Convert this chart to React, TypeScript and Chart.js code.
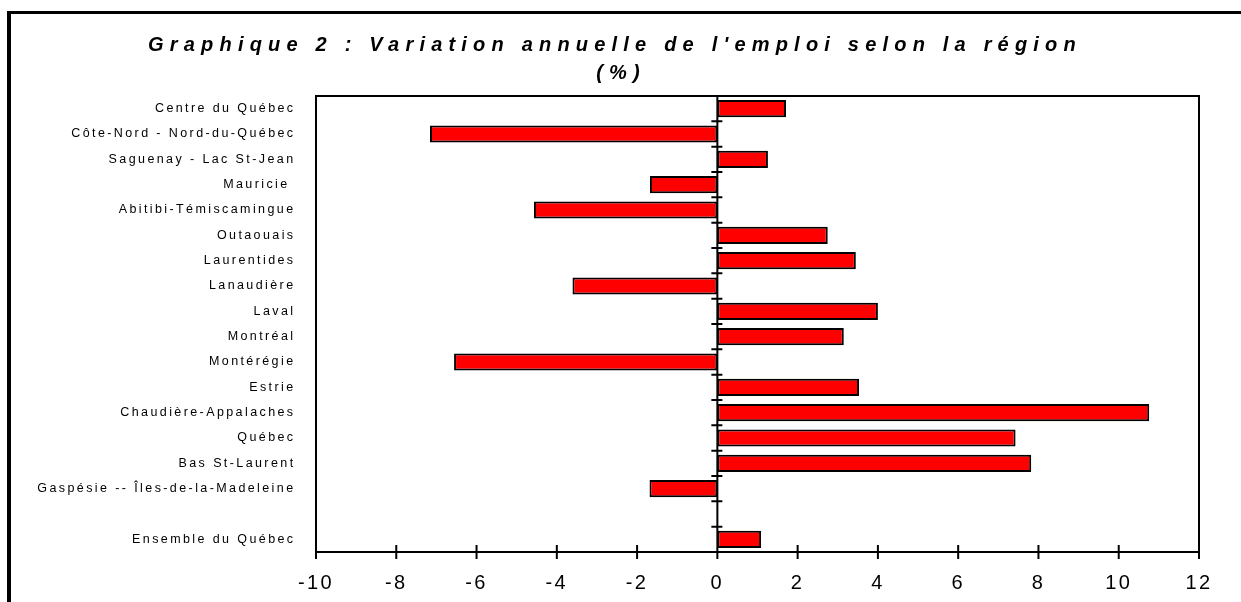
import React, { useEffect, useRef } from 'react';
import { Chart, registerables } from 'chart.js';

Chart.register(...registerables);

const regions = [
  'Centre du Québec',
  'Côte-Nord - Nord-du-Québec',
  'Saguenay - Lac St-Jean',
  'Mauricie ',
  'Abitibi-Témiscamingue',
  'Outaouais',
  'Laurentides',
  'Lanaudière',
  'Laval',
  'Montréal',
  'Montérégie',
  'Estrie',
  'Chaudière-Appalaches',
  'Québec',
  'Bas St-Laurent',
  'Gaspésie -- Îles-de-la-Madeleine',
  '',
  'Ensemble du Québec',
];

const variation = [
  1.71, -7.16, 1.26, -1.68, -4.57, 2.75, 3.45, -3.61, 4.0, 3.15, -6.56, 3.53,
  10.76, 7.43, 7.82, -1.69, null, 1.09,
];

const xTickValues = [-10, -8, -6, -4, -2, 0, 2, 4, 6, 8, 10, 12];

const titleLines = [
  "Graphique 2 : Variation annuelle de l'emploi selon la région",
  '(%)',
];

const FONT = '"Liberation Sans", Arial, Helvetica, sans-serif';

const decorPlugin = {
  id: 'decor',
  beforeLayout(chart: any) {
    chart.ctx.letterSpacing = '2.4px';
  },
  beforeDraw(chart: any) {
    const ctx = chart.ctx;
    ctx.letterSpacing = '2.4px';
    ctx.save();
    ctx.fillStyle = '#000';
    ctx.fillRect(7, 11, 4, chart.height - 11);
    ctx.fillRect(7, 11, chart.width - 7, 3);
    ctx.restore();
  },
  afterDatasetsDraw(chart: any) {
    const { ctx, chartArea: a, scales } = chart;
    const x = scales.x;
    const y = scales.y;
    ctx.save();
    ctx.strokeStyle = '#000';
    ctx.lineWidth = 2;
    ctx.strokeRect(a.left, a.top, a.right - a.left, a.bottom - a.top);
    const zx = x.getPixelForValue(0);
    ctx.beginPath();
    ctx.moveTo(zx, a.top);
    ctx.lineTo(zx, a.bottom);
    const n = y.ticks.length;
    for (let i = 0; i <= n; i++) {
      const yy =
        i === 0
          ? a.top
          : i === n
          ? a.bottom
          : (y.getPixelForTick(i - 1) + y.getPixelForTick(i)) / 2;
      ctx.moveTo(zx - 6, yy);
      ctx.lineTo(zx + 5, yy);
    }
    x.ticks.forEach((_t: any, i: number) => {
      const px = x.getPixelForTick(i);
      ctx.moveTo(px, a.bottom - 7);
      ctx.lineTo(px, a.bottom + 7);
    });
    ctx.stroke();
    ctx.restore();
  },
  afterDraw(chart: any) {
    const ctx = chart.ctx;
    ctx.save();
    ctx.font = `italic bold 20px ${FONT}`;
    ctx.letterSpacing = '6.2px';
    ctx.fillStyle = '#000';
    ctx.textAlign = 'center';
    ctx.textBaseline = 'middle';
    ctx.fillText(titleLines[0], 612 + 3, 45);
    ctx.fillText(titleLines[1], 618 + 3, 73);
    ctx.restore();
  },
};

export default function App() {
  const ref = useRef<HTMLCanvasElement | null>(null);

  useEffect(() => {
    if (!ref.current) return;
    const chart = new Chart(ref.current, {
      type: 'bar',
      data: {
        labels: regions,
        datasets: [
          {
            data: variation as any,
            backgroundColor: '#ff0000',
            borderColor: '#000000',
            borderWidth: 2,
            borderSkipped: false,
            barPercentage: 0.68,
            categoryPercentage: 1,
          },
        ],
      },
      options: {
        indexAxis: 'y',
        responsive: false,
        animation: false,
        layout: { padding: { top: 96, right: 42, left: 0, bottom: 0 } },
        plugins: {
          legend: { display: false },
          tooltip: { enabled: false },
          title: { display: false },
        },
        scales: {
          x: {
            type: 'linear',
            min: -10,
            max: 12,
            grid: { display: false },
            border: { display: false },
            ticks: {
              stepSize: 2,
              color: '#000',
              font: { family: FONT, size: 20 },
              padding: 11,
              autoSkip: false,
              maxRotation: 0,
            },
            afterBuildTicks: (s: any) => {
              s.ticks = xTickValues.map((v) => ({ value: v }));
            },
            afterFit: (s: any) => {
              s.height = 50;
              s.paddingLeft = 0;
              s.paddingRight = 0;
            },
          },
          y: {
            type: 'category',
            grid: { display: false },
            border: { display: false },
            ticks: {
              color: '#000',
              font: { family: FONT, size: 12.5 },
              padding: 12.5,
              autoSkip: false,
            },
            afterFit: (s: any) => {
              s.width = 316;
              s.paddingTop = 0;
              s.paddingBottom = 0;
            },
          },
        },
      } as any,
      plugins: [decorPlugin],
    });
    return () => chart.destroy();
  }, []);

  return (
    <div style={{ position: 'absolute', left: 0, top: 0, width: 1241, height: 602 }}>
      <canvas ref={ref} width={1241} height={602} style={{ display: 'block' }} />
    </div>
  );
}
